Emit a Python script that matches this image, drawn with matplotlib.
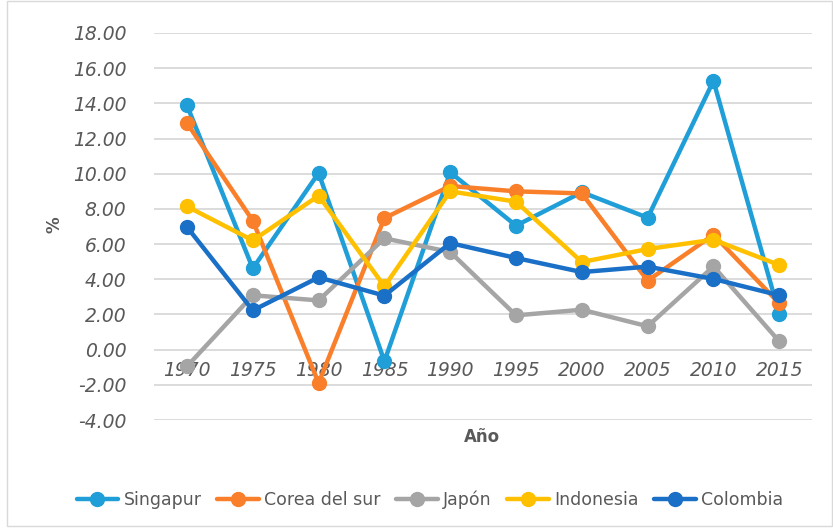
import matplotlib.pyplot as plt
from matplotlib.patches import Rectangle

# Datos
anios = ['1970', '1975', '1980', '1985', '1990', '1995', '2000', '2005', '2010', '2015']
singapur = [13.88, 4.62, 10.04, -0.66, 10.08, 7.05, 8.95, 7.50, 15.28, 2.03]
corea = [12.88, 7.33, -1.90, 7.48, 9.30, 9.00, 8.88, 3.92, 6.53, 2.63]
japon = [-0.95, 3.09, 2.80, 6.33, 5.55, 1.95, 2.27, 1.33, 4.73, 0.47]
indonesia = [8.14, 6.21, 8.75, 3.60, 9.00, 8.41, 4.98, 5.72, 6.25, 4.81]
colombia = [6.97, 2.23, 4.11, 3.07, 6.06, 5.21, 4.41, 4.72, 4.02, 3.09]

series = [
	('Singapur', singapur, '#1F9ED8'),
	('Corea del sur', corea, '#F97F2A'),
	('Japón', japon, '#A5A5A5'),
	('Indonesia', indonesia, '#FFC000'),
	('Colombia', colombia, '#1A6FC6'),
]

texto = '#595959'

fig = plt.figure(figsize=(8.33, 5.28), dpi=100)
grafico = fig.add_axes([0.185, 0.2045, 0.79, 0.733])

x = list(range(len(anios)))
for nombre, valores, color in series:
	grafico.plot(x, valores, color=color, linewidth=3.2, marker='o', markersize=10,
				 label=nombre, solid_capstyle='round')

grafico.set_xlim(-0.5, len(anios) - 0.5)
grafico.set_ylim(-4, 18)
grafico.set_yticks(range(-4, 19, 2))
grafico.set_yticklabels(['%.2f' % v for v in range(-4, 19, 2)])
grafico.grid(axis='y', color='#D9D9D9', linewidth=1.3)
grafico.set_axisbelow(True)
for lado in ['top', 'right', 'left']:
	grafico.spines[lado].set_visible(False)
grafico.spines['bottom'].set_position(('data', 0))
grafico.spines['bottom'].set_visible(False)

grafico.set_xticks(x)
grafico.set_xticklabels(anios)
grafico.tick_params(axis='both', length=0, colors=texto, labelsize=13.5)
grafico.tick_params(axis='x', pad=8)
grafico.tick_params(axis='y', pad=20)
for etiqueta in grafico.get_xticklabels() + grafico.get_yticklabels():
	etiqueta.set_fontstyle('italic')

fig.text(0.066, 0.574, '%', rotation=90, ha='center', va='center',
		 color=texto, fontsize=12, fontweight='bold')
fig.text(0.579, 0.172, 'Año', ha='center', va='center',
		 color=texto, fontsize=12, fontweight='bold')

fig.legend(loc='center', bbox_to_anchor=(0.516, 0.053), ncol=5, frameon=False,
		   handlelength=2.4, columnspacing=0.9, handletextpad=0.3,
		   labelcolor=texto, prop={'size': 12.5})

# Borde del area del grafico
fig.patches.append(Rectangle((0.009, 0.004), 0.99, 0.995, transform=fig.transFigure,
							 fill=False, edgecolor='#D9D9D9', linewidth=1))

plt.savefig('out.png', dpi=100)
